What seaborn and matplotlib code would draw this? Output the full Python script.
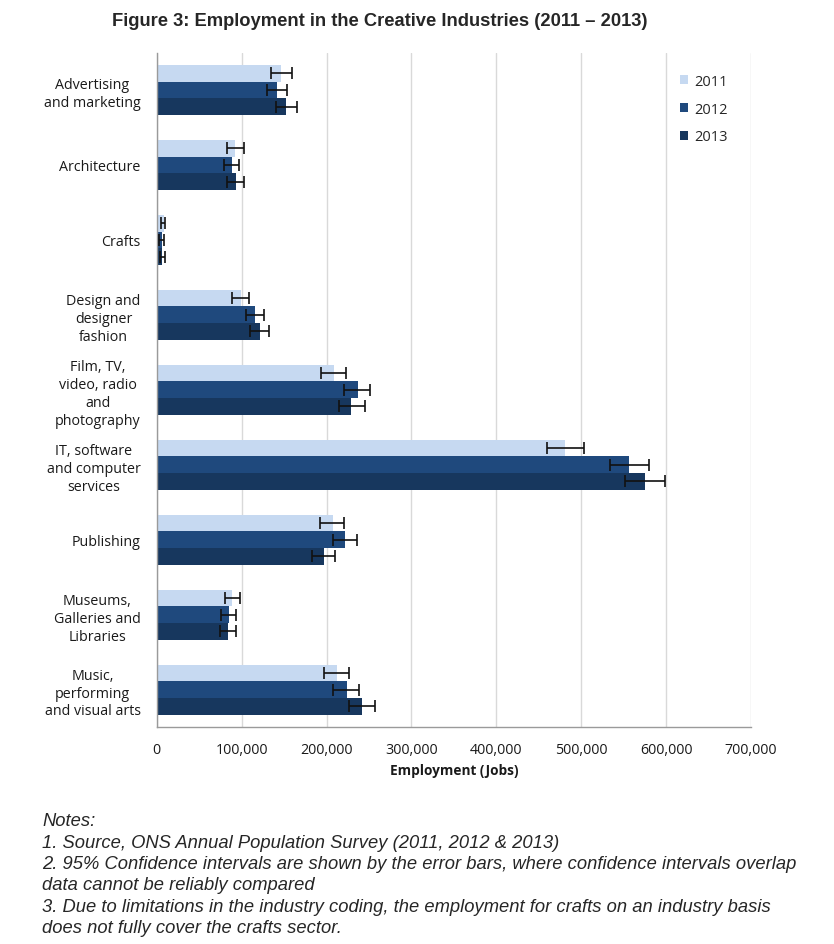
import matplotlib
matplotlib.use("Agg")
import matplotlib.pyplot as plt
import matplotlib.patches as mpatches
from matplotlib.ticker import FuncFormatter, FixedLocator
import seaborn as sns
import pandas as pd
import numpy as np

# data (jobs)
industries = [
    "Advertising\nand marketing",
    "Architecture",
    "Crafts",
    "Design and\ndesigner\nfashion",
    "Film, TV,\nvideo, radio\nand\nphotography",
    "IT, software\nand computer\nservices",
    "Publishing",
    "Museums,\nGalleries and\nLibraries",
    "Music,\nperforming\nand visual arts",
]
years = ["2011", "2012", "2013"]

jobs_2011 = [146300, 92200, 8600, 99200, 208300, 481300, 207100, 89000, 211800]
jobs_2012 = [141600, 88600, 6200, 115700, 236900, 556600, 222000, 84700, 223600]
jobs_2013 = [152000, 93300, 6200, 121200, 229400, 575000, 196500, 83500, 241600]

# 95% confidence interval ends
ci_low_2011 = [134500, 83000, 4700, 89000, 193700, 459600, 192500, 80100, 196900]
ci_high_2011 = [158800, 102400, 10100, 108600, 222400, 503100, 220800, 98000, 226000]
ci_low_2012 = [130100, 79600, 3100, 104800, 221200, 533700, 207100, 75300, 207800]
ci_high_2012 = [153700, 97200, 8900, 125900, 251400, 579600, 236100, 93600, 238400]
ci_low_2013 = [140800, 83000, 4300, 110100, 214900, 551500, 183100, 74800, 226000]
ci_high_2013 = [165100, 102400, 9400, 132500, 245100, 599000, 210200, 93600, 257700]

colors = ["#c6d9f1", "#1f497d", "#17375e"]

notes = [
    "Notes:",
    "1. Source, ONS Annual Population Survey (2011, 2012 & 2013)",
    "2. 95% Confidence intervals are shown by the error bars, where confidence intervals overlap",
    "data cannot be reliably compared",
    "3. Due to limitations in the industry coding, the employment for crafts on an industry basis",
    "does not fully cover the crafts sector.",
]

values = {"2011": jobs_2011, "2012": jobs_2012, "2013": jobs_2013}
lows = {"2011": ci_low_2011, "2012": ci_low_2012, "2013": ci_low_2013}
highs = {"2011": ci_high_2011, "2012": ci_high_2012, "2013": ci_high_2013}

rows = []
for y in years:
    for ind, v in zip(industries, values[y]):
        rows.append({"industry": ind, "year": y, "jobs": v})
df = pd.DataFrame(rows)

sns.set_style("white")
plt.rcParams["font.family"] = ["Open Sans", "DejaVu Sans"]

W, H = 834, 945
fig = plt.figure(figsize=(W / 100, H / 100), dpi=100)
left, right, top, bottom = 156.7, 751, 53.5, 728
ax = fig.add_axes([left / W, 1 - bottom / H, (right - left) / W, (bottom - top) / H])

sns.barplot(data=df, x="jobs", y="industry", hue="year", orient="h",
            order=industries, hue_order=years, palette=colors,
            width=0.667, errorbar=None, saturation=1, linewidth=0,
            edgecolor="none", ax=ax, zorder=2)

# error bars on each bar
for cont, y in zip(ax.containers, years):
    for bar, v, lo, hi in zip(cont.patches, values[y], lows[y], highs[y]):
        yc = bar.get_y() + bar.get_height() / 2
        ax.errorbar(v, yc, xerr=[[v - lo], [hi - v]], fmt="none", ecolor="#111111",
                    elinewidth=1.2, capsize=4, capthick=1.2, zorder=3)

ax.set_xlim(0, 700000)
ax.set_ylim(len(industries) - 0.5, -0.5)
ax.xaxis.set_major_locator(FixedLocator(np.arange(0, 700001, 100000)))
ax.xaxis.set_major_formatter(FuncFormatter(lambda x, p: f"{int(x):,}"))
ax.grid(axis="x", color="#d9d9d9", linewidth=1, zorder=0)
ax.set_axisbelow(True)

for s in ["top", "right"]:
    ax.spines[s].set_visible(False)
for s in ["left", "bottom"]:
    ax.spines[s].set_color("#9a9a9a")
    ax.spines[s].set_linewidth(1)

ax.yaxis.set_minor_locator(FixedLocator(np.arange(-0.5, len(industries), 1)))
ax.tick_params(axis="y", which="major", length=0, pad=11.5, labelsize=10.3, labelcolor="#1a1a1a")
ax.tick_params(axis="y", which="minor", length=4, color="#9a9a9a", direction="out")
ax.tick_params(axis="x", which="major", length=4, color="#9a9a9a", direction="out",
               pad=7, labelsize=10.3, labelcolor="#1a1a1a")
for lab in ax.get_yticklabels():
    lab.set_multialignment("center")
    lab.set_linespacing(1.27)

ax.set_ylabel("")
ax.set_xlabel("Employment (Jobs)", fontsize=9.8, fontweight="bold", labelpad=4, color="#1a1a1a")

handles = [mpatches.Patch(facecolor=c, edgecolor="none") for c in colors]
ax.legend(handles, years, frameon=False, loc="upper left", bbox_to_anchor=(0.873, 0.975),
          borderaxespad=0, borderpad=0.3, handlelength=0.55, handleheight=0.55,
          handletextpad=0.45, labelspacing=0.88, fontsize=10.5)

fig.text(380 / W, 1 - 22 / H, "Figure 3: Employment in the Creative Industries (2011 \u2013 2013)",
         ha="center", va="center", fontsize=13.2, fontweight="bold", family="Liberation Sans")

y0 = 822
for i, line in enumerate(notes):
    fig.text(42 / W, 1 - (y0 + i * 21.3) / H, line, ha="left", va="center",
             fontsize=13.2, style="italic", family="Liberation Sans")

fig.savefig("out.png", dpi=100)
